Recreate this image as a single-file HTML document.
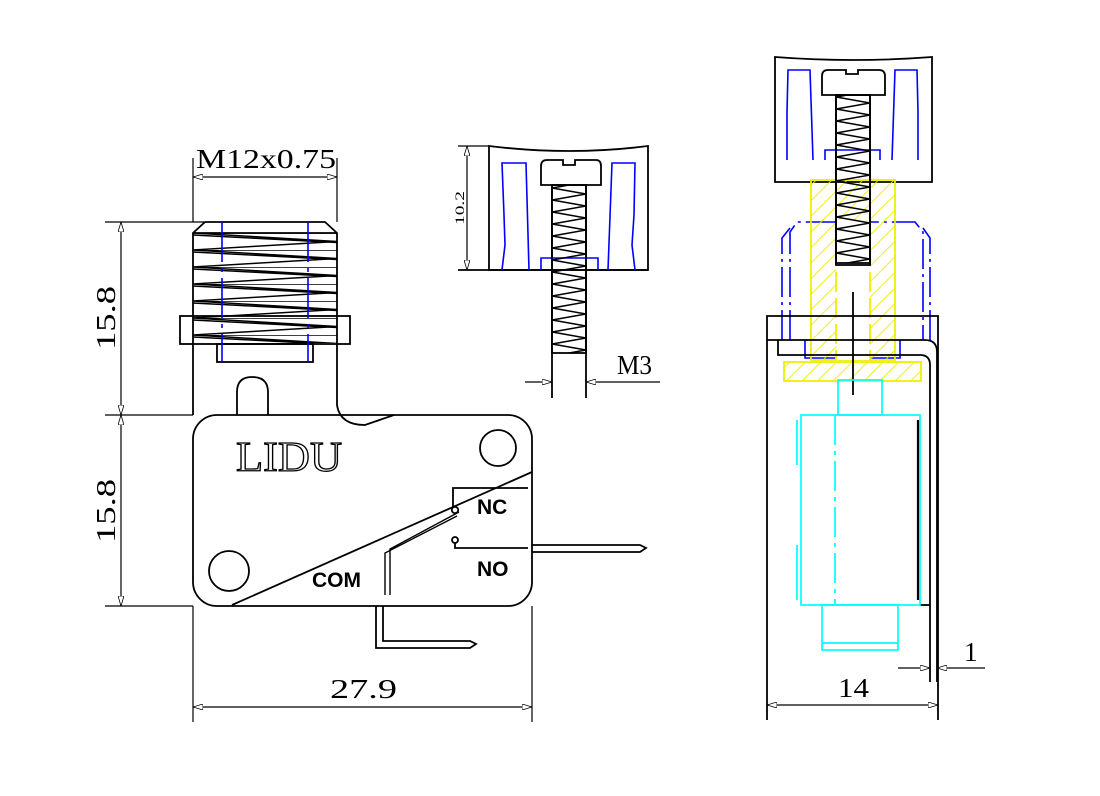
<!DOCTYPE html>
<html><head><meta charset="utf-8"><style>
html,body{margin:0;padding:0;background:#fff;}
svg{display:block;}
text{font-family:"Liberation Serif",serif;}
.s{font-family:"Liberation Sans",sans-serif;font-weight:bold;}
</style></head><body>
<svg width="1100" height="796" viewBox="0 0 1100 796" xmlns="http://www.w3.org/2000/svg">
<defs>
<pattern id="zz" patternUnits="userSpaceOnUse" x="552" y="188" width="34" height="12">
<path d="M0,0 L34,6 L0,12" fill="none" stroke="#000" stroke-width="1.6"/></pattern>
<pattern id="zz2" patternUnits="userSpaceOnUse" x="836" y="97" width="34" height="12">
<path d="M0,0 L34,6 L0,12" fill="none" stroke="#000" stroke-width="1.6"/></pattern>
<pattern id="th" patternUnits="userSpaceOnUse" x="193" y="233" width="144" height="17">
<path d="M0,0 L144,8.5 L0,17 M0,0 L144,0 M0,2 L144,9.5" fill="none" stroke="#000" stroke-width="1.4"/></pattern>
<pattern id="hat" patternUnits="userSpaceOnUse" width="11" height="11" patternTransform="rotate(45)">
<line x1="0" y1="0" x2="0" y2="11" stroke="#ee0" stroke-width="1.8"/></pattern>
<marker id="a" viewBox="0 0 10 6" refX="10" refY="3" markerWidth="10" markerHeight="6" orient="auto-start-reverse" markerUnits="userSpaceOnUse">
<path d="M0,0 L10,3 L0,6 z" fill="#fff" stroke="#000" stroke-width="0.8"/></marker>
</defs>
<g fill="none" stroke="#000" stroke-width="1.8">
<!-- LEFT VIEW -->
<rect x="193" y="233" width="144" height="110" fill="url(#th)" stroke="none"/>
<path d="M205,222 L325,222 L337,233 L337,345 M193,345 L193,233 L205,222"/>
<line x1="193" y1="233" x2="337" y2="233"/>
<rect x="180" y="316" width="170" height="28"/>
<rect x="217" y="344" width="96" height="18"/>
<line x1="193" y1="344" x2="193" y2="415"/>
<path d="M337,344 L337,405 Q340,425 365,425 L394,415"/>
<path d="M237,415 L237,392 Q237,377 252,377 Q268,377 268,392 L268,415"/>
<g stroke="#00f" stroke-width="1.6" stroke-dasharray="40,6,4,6"><line x1="222" y1="222" x2="222" y2="362"/><line x1="308" y1="222" x2="308" y2="362"/></g>
<rect x="193" y="415" width="339" height="191" rx="24"/>
<circle cx="498" cy="448" r="18"/>
<circle cx="229" cy="571" r="20"/>
<line x1="232" y1="605" x2="532" y2="472"/>
<path d="M453,510 L453,488 L528,488"/>
<circle cx="455" cy="510" r="3.2" fill="#fff"/>
<path d="M459,512 L390,549 L390,595 M457,516 L385,553 L385,595" stroke-width="1.4"/>
<circle cx="455" cy="540" r="3"/>
<path d="M455,543 L455,548 L528,548"/>
<path d="M532,545 L640,545 L646,548 L640,552 L532,552"/>
<path d="M376,606 L376,648 L470,648 L476,644 L470,641 L383,641 L383,606"/>
<!-- dims left -->
<g stroke-width="1.2">
<line x1="193" y1="158" x2="193" y2="222"/>
<line x1="337" y1="158" x2="337" y2="222"/>
<line x1="193" y1="177" x2="337" y2="177" marker-start="url(#a)" marker-end="url(#a)"/>
<line x1="105" y1="222" x2="205" y2="222"/>
<line x1="105" y1="415" x2="193" y2="415"/>
<line x1="105" y1="606" x2="193" y2="606"/>
<line x1="121" y1="222" x2="121" y2="415" marker-start="url(#a)" marker-end="url(#a)"/>
<line x1="121" y1="415" x2="121" y2="606" marker-start="url(#a)" marker-end="url(#a)"/>
<line x1="193" y1="606" x2="193" y2="722"/>
<line x1="532" y1="606" x2="532" y2="722"/>
<line x1="193" y1="707" x2="532" y2="707" marker-start="url(#a)" marker-end="url(#a)"/>
</g>

<!-- MIDDLE VIEW -->
<path d="M489,146 Q570,156 648,146 L648,270 L489,270 Z"/>
<line x1="458" y1="146" x2="489" y2="146" stroke-width="1.2"/>
<line x1="458" y1="270" x2="648" y2="270"/>
<line x1="467" y1="146" x2="467" y2="270" stroke-width="1.2" marker-start="url(#a)" marker-end="url(#a)"/>
<g stroke="#00f" stroke-width="1.6"><path d="M502,270 L505,245 L504,215 L502,163 L526,163 L529,270"/><path d="M635,270 L632,245 L634,215 L635,163 L612,163 L608,270"/><path d="M541,270 L541,258 L598,258 L598,270"/></g>
<path d="M541,185 L541,166 Q541,160 547,160 L563,160 L563,165 L575,165 L575,160 L596,160 Q601,160 601,166 L601,185 Z" fill="#fff"/>
<rect x="552" y="185" width="34" height="168" fill="url(#zz)"/>
<path d="M552,185 L552,398 M586,185 L586,398"/>
<line x1="525" y1="382" x2="552" y2="382" stroke-width="1.2" marker-end="url(#a)"/>
<line x1="660" y1="382" x2="586" y2="382" stroke-width="1.2" marker-end="url(#a)"/>

<!-- RIGHT VIEW -->
<path d="M775,57 Q853,63 932,57 L932,182 L775,182 Z"/>
<g stroke="#00f" stroke-width="1.6">
<path d="M787,160 L787,112 L788,70 L810,70 L813,160 M918,160 L918,112 L917,70 L895,70 L892,160"/>
<path d="M825,160 L825,150 L880,150 L880,160"/>
<path d="M790,340 L790,232 L797,222 L915,222 L923,232 L923,340" stroke-dasharray="30,5,3,5"/>
<path d="M782,340 L782,238 L790,228 M930,340 L930,238 L923,228" stroke-dasharray="30,5,3,5"/>
<path d="M805,340 L805,358 L900,358 L900,340"/>
</g>
<rect x="811" y="180" width="84" height="180" fill="url(#hat)" stroke="#ee0" stroke-width="1.8"/>
<rect x="836" y="220" width="34" height="140" fill="#fff" stroke="none"/>
<line x1="836" y1="220" x2="836" y2="360" stroke="#ee0" stroke-dasharray="20,6"/>
<line x1="870" y1="220" x2="870" y2="360" stroke="#ee0" stroke-dasharray="20,6"/>
<rect x="784" y="362" width="137" height="19" fill="url(#hat)" stroke="#ee0" stroke-width="1.8"/>
<path d="M822,95 L822,76 Q822,70 828,70 L846,70 L846,74 L858,74 L858,70 L879,70 Q885,70 885,76 L885,95 Z" fill="#fff"/>
<rect x="836" y="95" width="34" height="168" fill="url(#zz2)"/>
<rect x="836" y="95" width="34" height="170"/>
<line x1="853" y1="292" x2="853" y2="395" stroke-width="1.8"/>
<path d="M767,720 L767,316 L938,316 L938,720"/>
<path d="M767,340 L925,340 Q937,340 937,352 L937,682 M778,340 L778,355 L920,355 Q930,355 930,365 L930,682"/>
<line x1="920" y1="605" x2="930" y2="605"/>
<g stroke="#0ff" stroke-width="1.7">
<rect x="838" y="380" width="44" height="35"/>
<rect x="801" y="415" width="119" height="190"/>
<line x1="797" y1="420" x2="797" y2="465"/><line x1="797" y1="545" x2="797" y2="600"/>
<line x1="835" y1="415" x2="835" y2="605" stroke-dasharray="30,6,4,6"/>
<rect x="822" y="605" width="76" height="45"/>
<line x1="822" y1="643" x2="898" y2="643"/>
</g>
<line x1="918" y1="420" x2="918" y2="600" stroke="#000" stroke-width="2.2"/>
<g stroke-width="1.2">
<line x1="898" y1="668" x2="930" y2="668" marker-end="url(#a)"/>
<line x1="985" y1="668" x2="937" y2="668" marker-end="url(#a)"/>
<line x1="767" y1="705" x2="938" y2="705" marker-start="url(#a)" marker-end="url(#a)"/>
</g>
</g>
<g fill="#000">
<text x="196" y="168" font-size="27" textLength="140" lengthAdjust="spacingAndGlyphs">M12x0.75</text>
<text transform="translate(115,350) rotate(-90)" font-size="27" textLength="64" lengthAdjust="spacingAndGlyphs">15.8</text>
<text transform="translate(115,543) rotate(-90)" font-size="27" textLength="64" lengthAdjust="spacingAndGlyphs">15.8</text>
<text x="330" y="698" font-size="27" textLength="67" lengthAdjust="spacingAndGlyphs">27.9</text>
<text transform="translate(464,225) rotate(-90)" font-size="13" textLength="34" lengthAdjust="spacingAndGlyphs">10.2</text>
<text x="617" y="374" font-size="27" textLength="35" lengthAdjust="spacingAndGlyphs">M3</text>
<text x="838" y="697" font-size="27" textLength="31" lengthAdjust="spacingAndGlyphs">14</text>
<text x="964" y="661" font-size="27">1</text>
<text x="236" y="471" font-size="42" fill="#fff" stroke="#000" stroke-width="1.3" textLength="106" lengthAdjust="spacingAndGlyphs">LIDU</text>
<text class="s" x="477" y="514" font-size="21">NC</text>
<text class="s" x="477" y="576" font-size="21">NO</text>
<text class="s" x="312" y="587" font-size="21">COM</text>
</g>
</svg>
</body></html>
